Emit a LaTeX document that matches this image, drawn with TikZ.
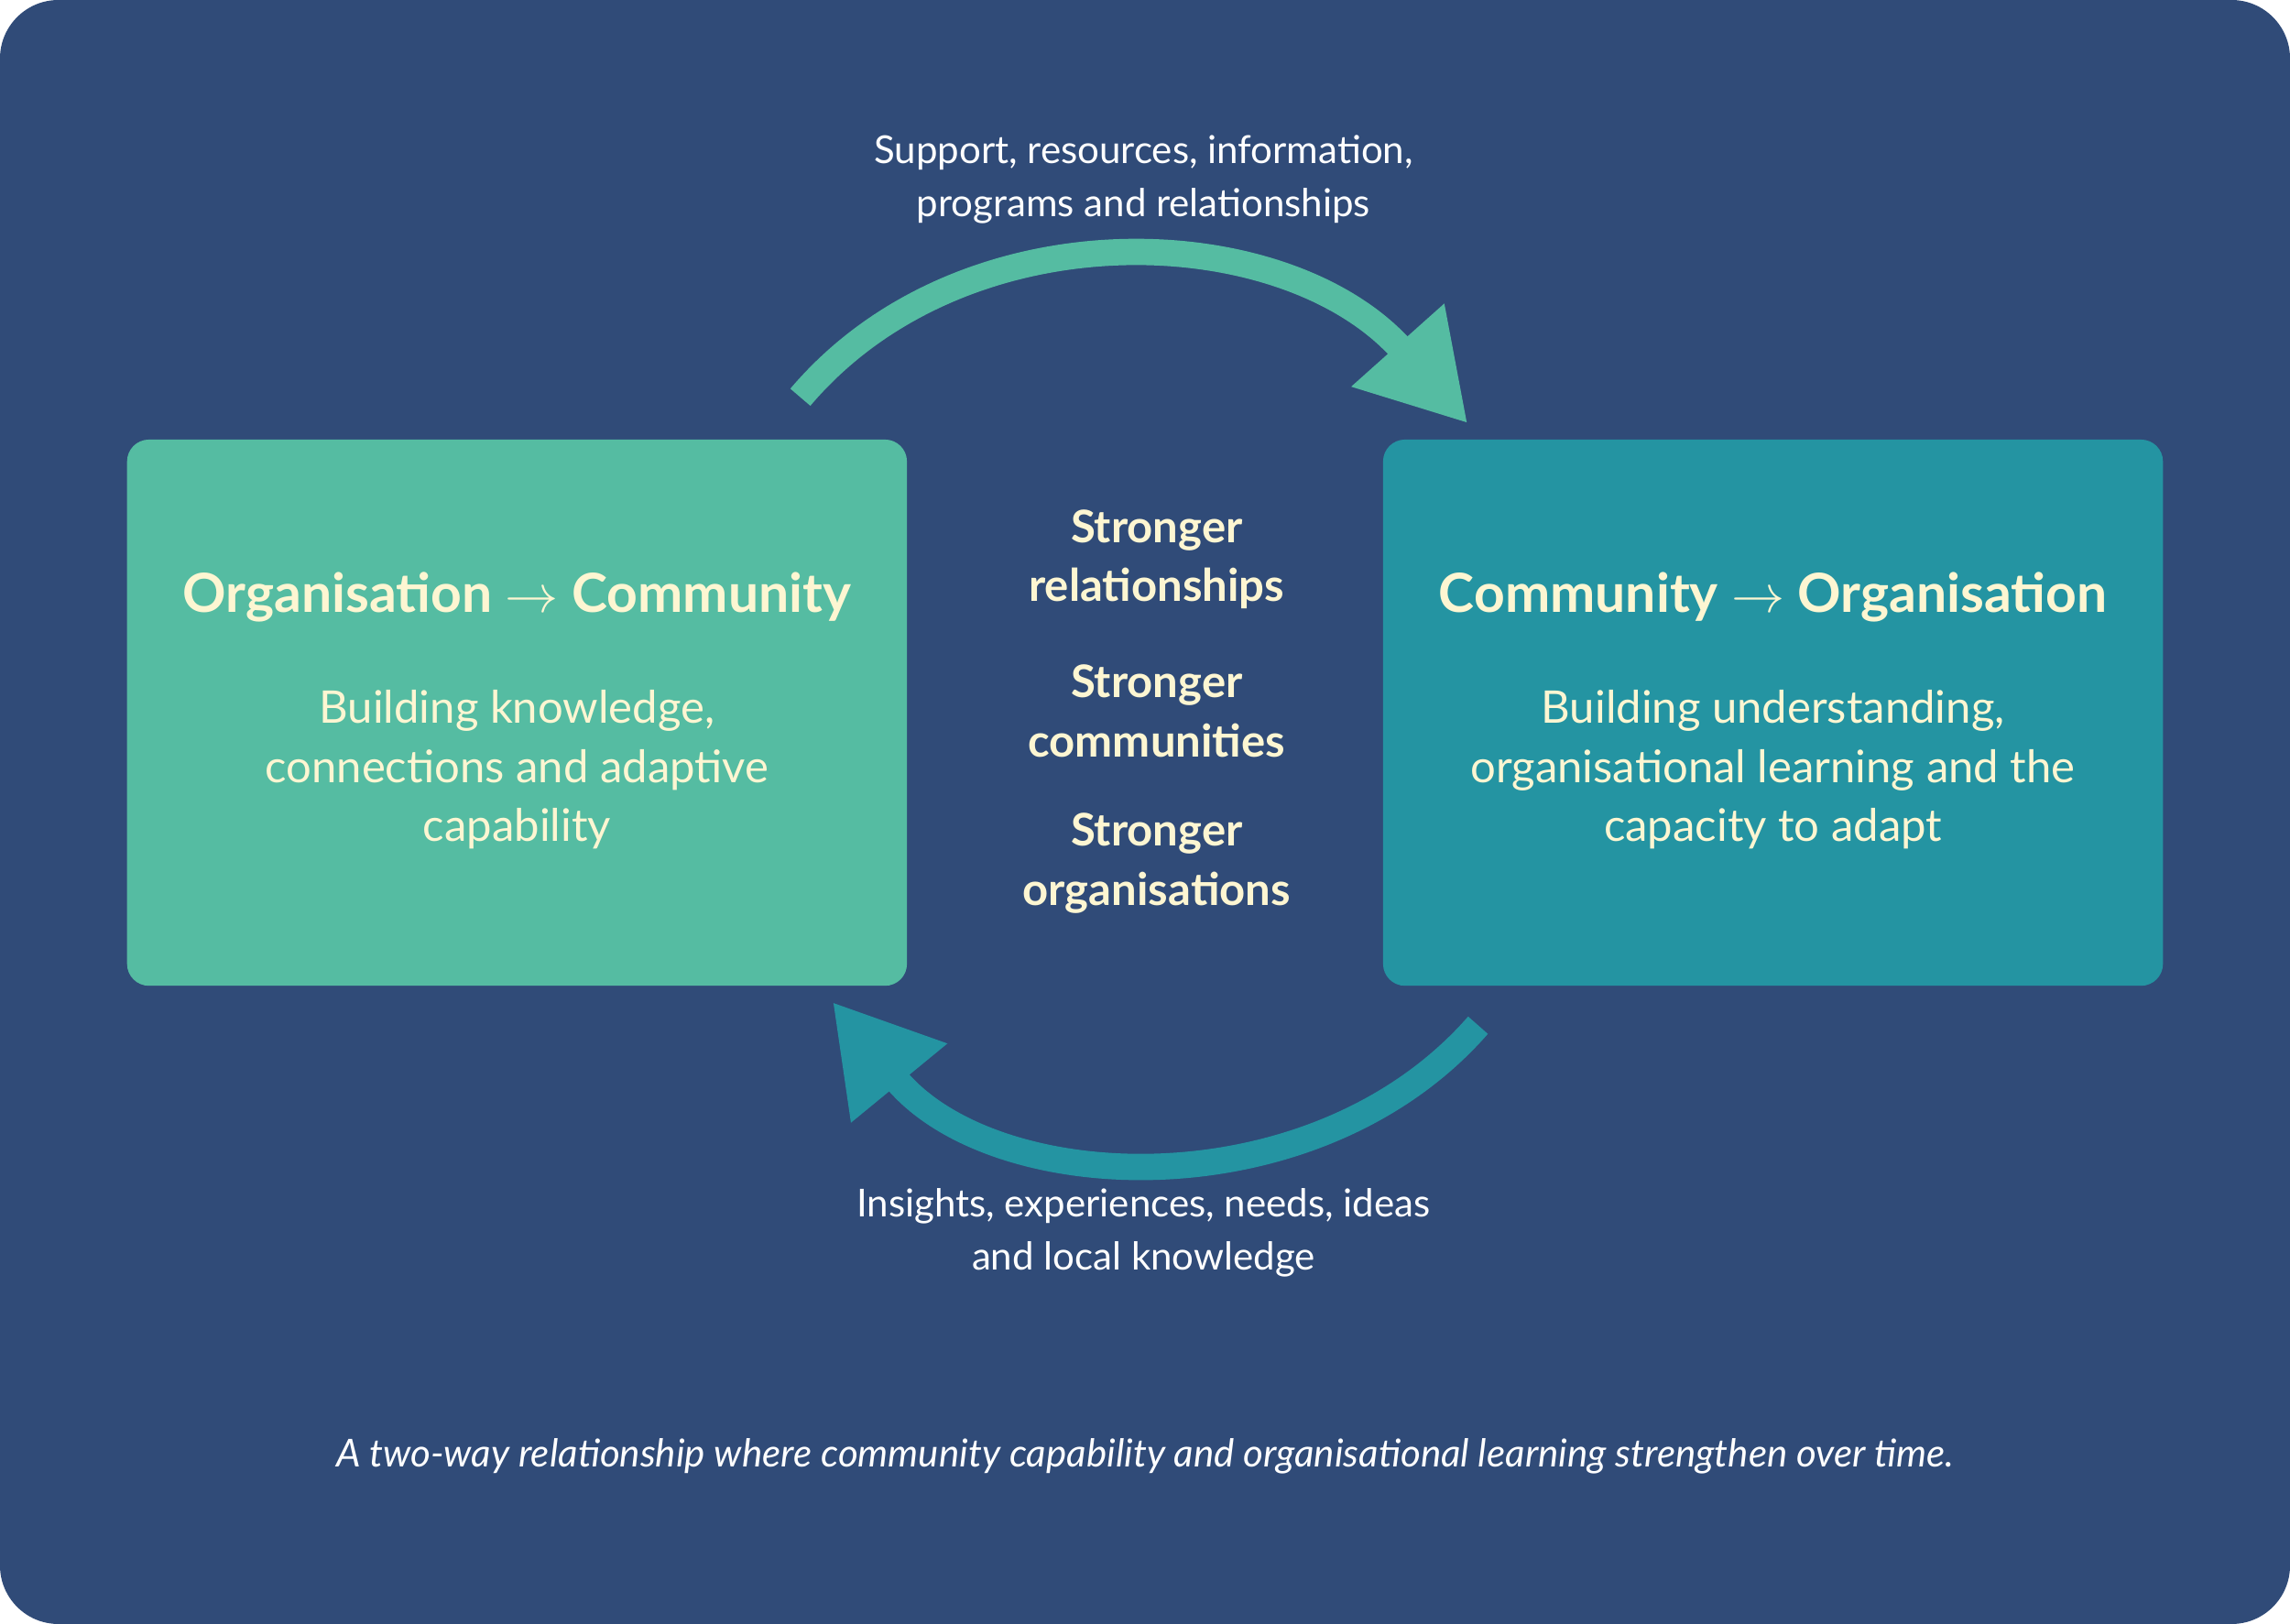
\documentclass[tikz,border=0pt]{standalone}
\usepackage{fontspec}
\setmainfont{Lato}
\usetikzlibrary{arrows.meta,positioning}
\definecolor{navy}{HTML}{304B78}
\definecolor{mint}{HTML}{55BCA2}
\definecolor{teal}{HTML}{2494A2}
\definecolor{cream}{HTML}{FDF6D2}
\def\ux{.02cm}

\begin{document}
\begin{tikzpicture}[x=\ux,y=-\ux]
  \tikzset{box/.style={rounded corners=.3cm,minimum width=534*\ux,minimum height=374*\ux,inner sep=0pt},
    title/.style={font=\fontsize{21}{25}\selectfont\bfseries,text=cream},
    body/.style={font=\fontsize{17.5}{23}\selectfont,text=cream,align=center},
    core/.style={font=\fontsize{17.5}{23}\selectfont\bfseries,text=cream,align=center},
    flow/.style={font=\fontsize{15}{20.5}\selectfont,text=white,align=center},
    loop/.style={line width=18*\ux,-{Triangle[length=72*\ux,width=80*\ux]}}}

  \fill[navy,rounded corners=.8cm] (0,0) rectangle (1568,1112);
  \useasboundingbox (0,0) rectangle (1568,1112);

  \node[box,fill=mint] (orgcom) at (354,488) {};
  \node[box,fill=teal] (comorg) at (1214,488) {};
  \node[title] (t1) at (354,409) {Organisation $\rightarrow$ Community};
  \node[body] (b1) at (354,527) {Building knowledge,\\connections and adaptive\\capability};
  \node[title] (t2) at (1214,409) {Community $\rightarrow$ Organisation};
  \node[body] (b2) at (1214,527) {Building understanding,\\organisational learning and the\\capacity to adapt};

  \foreach \y/\w in {383/relationships,487/communities,591/organisations}
    \node[core] at (792,\y) {Stronger\\\w};

  % the two flows
  \coordinate (s1) at (548,272);
  \coordinate (e1) at (1005,290);
  \draw[loop,mint] (s1) .. controls (660,140) and (880,150) .. (e1);
  \coordinate (s2) at (1012,702);
  \coordinate (e2) at (570,686);
  \draw[loop,teal] (s2) .. controls (900,830) and (680,820) .. (e2);

  \node[flow] (top) at (783,123) {Support, resources, information,\\programs and relationships};
  \node[flow] (bottom) at (783,844) {Insights, experiences, needs, ideas\\and local knowledge};
  \node[flow,font=\fontsize{15}{20}\selectfont\itshape] (note) at (784,997)
    {A two-way relationship where community capability and organisational learning strengthen over time.};
\end{tikzpicture}
\end{document}
